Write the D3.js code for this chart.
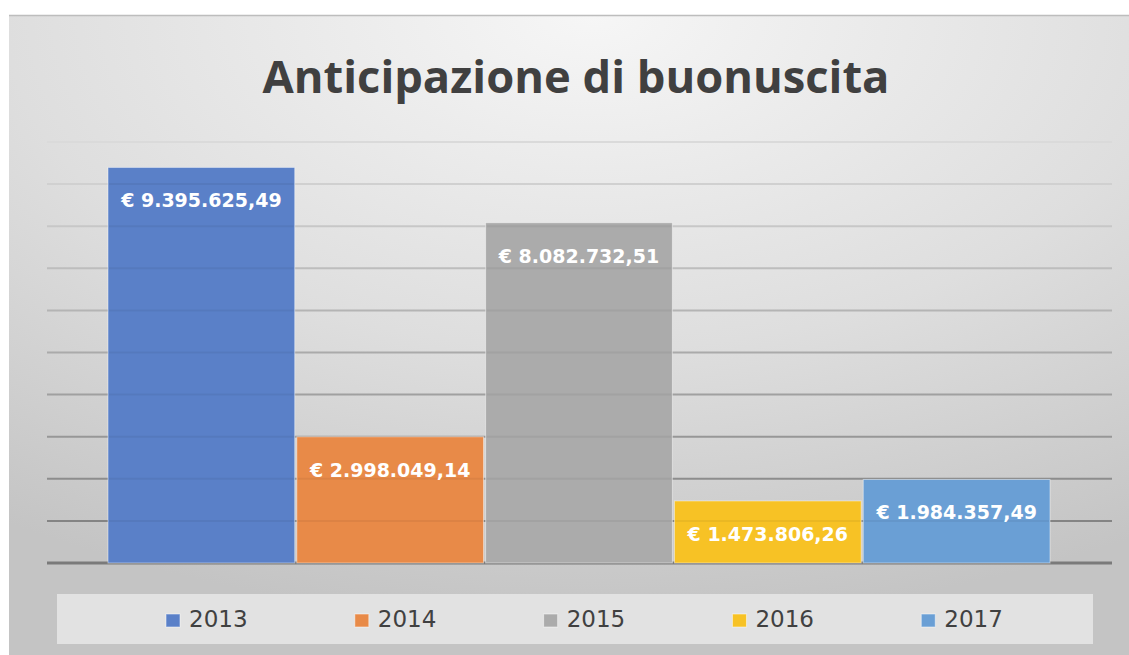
<!DOCTYPE html>
<html>
<head>
<meta charset="utf-8">
<script src="https://cdn.jsdelivr.net/npm/d3@7"></script>
<style>
html,body{margin:0;padding:0;background:#fff;}
svg{display:block;}
</style>
</head>
<body>
<svg id="chart" width="1129" height="655"></svg>
<script>
const years = ["2013","2014","2015","2016","2017"];
const values = [9395625.49, 2998049.14, 8082732.51, 1473806.26, 1984357.49];
const colors = ["#5a80c8","#e88a48","#ababab","#f7c225","#6a9fd5"];
const yTicks = [0,1e6,2e6,3e6,4e6,5e6,6e6,7e6,8e6,9e6,10e6];
const title = "Anticipazione di buonuscita";

const svg = d3.select("#chart");
const W = 1129, H = 655;

const defs = svg.append("defs");
const bg = defs.append("radialGradient").attr("id","bg")
  .attr("cx","52%").attr("cy","0%").attr("r","95%");
bg.append("stop").attr("offset","0%").attr("stop-color","#f6f6f6");
bg.append("stop").attr("offset","55%").attr("stop-color","#dedede");
bg.append("stop").attr("offset","100%").attr("stop-color","#c4c4c4");

svg.append("rect").attr("x",9).attr("y",15).attr("width",W-9).attr("height",H-15).attr("fill","url(#bg)");
svg.append("line").attr("x1",9).attr("x2",W).attr("y1",15.5).attr("y2",15.5).attr("stroke","#bdbdbd").attr("stroke-width",1.5);

const y = d3.scaleLinear().domain([0,10e6]).range([563,142]);
const x = d3.scaleBand().domain(years).range([108,1050]).paddingInner(0.011).paddingOuter(0);

const gridColor = d3.scaleLinear().domain([10e6,0]).range(["#dadada","#7a7a7a"]);

// gridlines
svg.append("g").selectAll("line").data(yTicks).join("line")
  .attr("x1",47).attr("x2",1112)
  .attr("y1",d=>y(d)).attr("y2",d=>y(d))
  .attr("stroke",d=>gridColor(d))
  .attr("stroke-width",d=>d===0?3:2);

// bars
const data = years.map((yr,i)=>({year:yr,value:values[i],color:colors[i]}));
const barG = svg.append("g").selectAll("g").data(data).join("g");
barG.append("rect")
  .attr("x",d=>x(d.year)).attr("width",x.bandwidth())
  .attr("y",d=>y(d.value)).attr("height",d=>y(0)-y(d.value))
  .attr("fill",d=>d.color)
  .attr("stroke","rgba(255,255,255,0.45)").attr("stroke-width",1);

// faint gridlines visible through each bar
barG.each(function(d){
  d3.select(this).selectAll("line").data(yTicks.filter(t=>t>0 && t<d.value)).join("line")
    .attr("x1",x(d.year)+1).attr("x2",x(d.year)+x.bandwidth()-1)
    .attr("y1",t=>y(t)).attr("y2",t=>y(t))
    .attr("stroke","rgba(0,0,0,0.05)").attr("stroke-width",2);
});

// labels
const it = d3.formatLocale({decimal:",",thousands:".",grouping:[3],currency:["€ ",""]});
const fmt = it.format("$,.2f");
svg.append("g").selectAll("text").data(data).join("text")
  .attr("x",d=>x(d.year)+x.bandwidth()/2)
  .attr("y",d=>y(d.value)+40)
  .attr("text-anchor","middle")
  .attr("font-family","DejaVu Sans")
  .attr("font-weight","bold")
  .attr("font-size",19)
  .attr("fill","#ffffff")
  .text(d=>fmt(d.value));

// title
const t = svg.append("text")
  .attr("x",576).attr("y",93)
  .attr("text-anchor","middle")
  .attr("font-family","Open Sans")
  .attr("font-weight","bold")
  .attr("font-size",50)
  .attr("fill","#404040")
  .text(title);
const tw = t.node().getComputedTextLength();
t.attr("font-size",50*627/tw);

// legend
svg.append("rect").attr("x",57).attr("y",594).attr("width",1036).attr("height",50).attr("fill","#e2e2e2");
const lg = svg.append("g").selectAll("g").data(data).join("g")
  .attr("transform",d=>`translate(${x(d.year)+58},0)`);
lg.append("rect").attr("x",0).attr("y",614).attr("width",14).attr("height",13)
  .attr("fill",d=>d.color).attr("stroke","rgba(255,255,255,0.5)").attr("stroke-width",1);
lg.append("text").attr("x",23).attr("y",627)
  .attr("font-family","DejaVu Sans").attr("font-size",23).attr("fill","#404040")
  .text(d=>d.year);
</script>
</body>
</html>
